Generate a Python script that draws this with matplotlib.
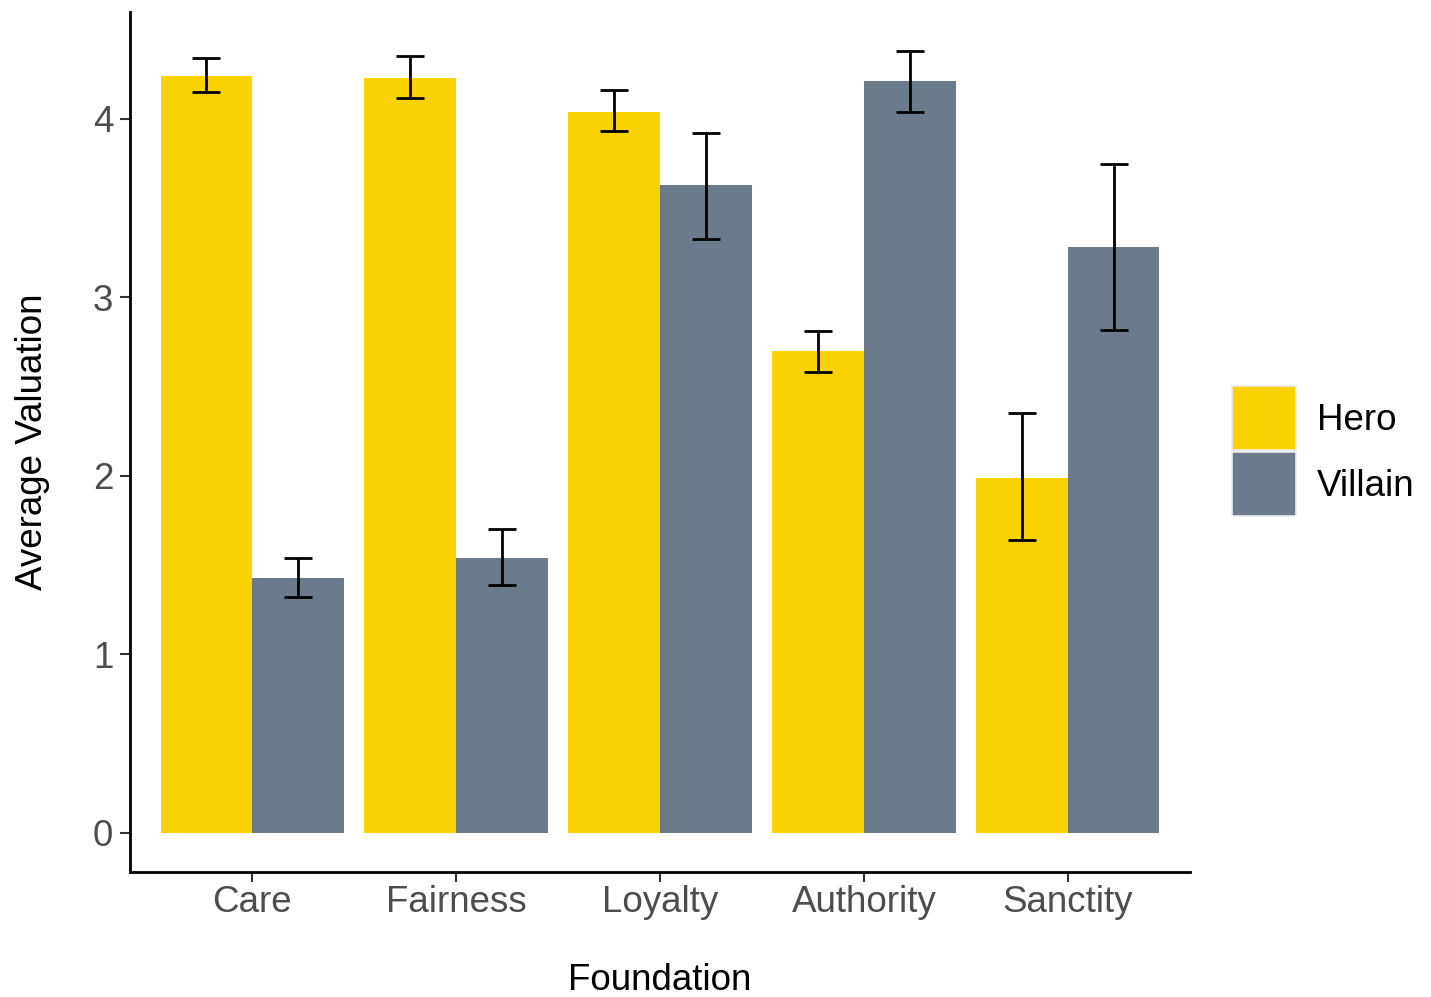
import matplotlib
matplotlib.use("Agg")
import matplotlib.pyplot as plt
from matplotlib.patches import Rectangle
import numpy as np

categories = ["Care", "Fairness", "Loyalty", "Authority", "Sanctity"]
groups = ["Hero", "Villain"]
hero_mean = [4.24, 4.23, 4.04, 2.70, 1.99]
hero_low = [4.15, 4.12, 3.93, 2.58, 1.64]
hero_high = [4.34, 4.35, 4.16, 2.81, 2.35]
villain_mean = [1.43, 1.54, 3.63, 4.21, 3.28]
villain_low = [1.32, 1.39, 3.33, 4.04, 2.82]
villain_high = [1.54, 1.70, 3.92, 4.38, 3.75]
yticks = [0, 1, 2, 3, 4]

colors = {"Hero": "#FAD201", "Villain": "#6C7B8B"}
FONT = ["Liberation Sans", "DejaVu Sans"]
plt.rcParams["font.family"] = FONT

W, H = 1431, 997
fig = plt.figure(figsize=(W / 100, H / 100), dpi=100)
ax = fig.add_axes([130 / W, (H - 872) / H, 1060 / W, 860 / H])

x = np.arange(1, len(categories) + 1)
bw = 0.45
data = {
    "Hero": (hero_mean, hero_low, hero_high, -bw / 2),
    "Villain": (villain_mean, villain_low, villain_high, bw / 2),
}
for g in groups:
    m, lo, hi, off = data[g]
    m = np.array(m); lo = np.array(lo); hi = np.array(hi)
    ax.bar(x + off, m, width=bw, color=colors[g], linewidth=0, zorder=2)
    ax.errorbar(x + off, m, yerr=[m - lo, hi - m], fmt="none", ecolor="black",
                elinewidth=2, capsize=10, capthick=2, zorder=3)

ax.set_xlim(0.4, 5.6)
ax.set_ylim(-0.219, 4.599)
ax.set_xticks(x)
ax.set_xticklabels(categories)
ax.set_yticks(yticks)
ax.set_yticklabels([str(t) for t in yticks])
for s in ["top", "right"]:
    ax.spines[s].set_visible(False)
for s in ["left", "bottom"]:
    ax.spines[s].set_linewidth(2)
    ax.spines[s].set_color("black")
ax.tick_params(axis="both", length=7, width=1.5, color="#333333",
               labelsize=26.5, labelcolor="#4D4D4D")
ax.tick_params(axis="x", pad=2)
ax.tick_params(axis="y", pad=5)
ax.set_xlabel("Foundation", fontsize=26.5, color="black", labelpad=31)
ax.set_ylabel("Average Valuation", fontsize=26.5, color="black", labelpad=31)

# legend
key_x, key_w, key_h = 1232, 64, 64
for i, g in enumerate(groups):
    y_top = 386 + i * 66
    fig.add_artist(Rectangle((key_x / W, (H - y_top - key_h) / H), key_w / W, key_h / H,
                             transform=fig.transFigure, facecolor=colors[g],
                             edgecolor="#EBEBEB", linewidth=1.2))
    fig.text(1317 / W, (H - y_top - key_h / 2 - 3) / H, g, fontsize=26.5,
             color="black", va="center", ha="left")

fig.savefig("out.png", dpi=100, facecolor="white")
